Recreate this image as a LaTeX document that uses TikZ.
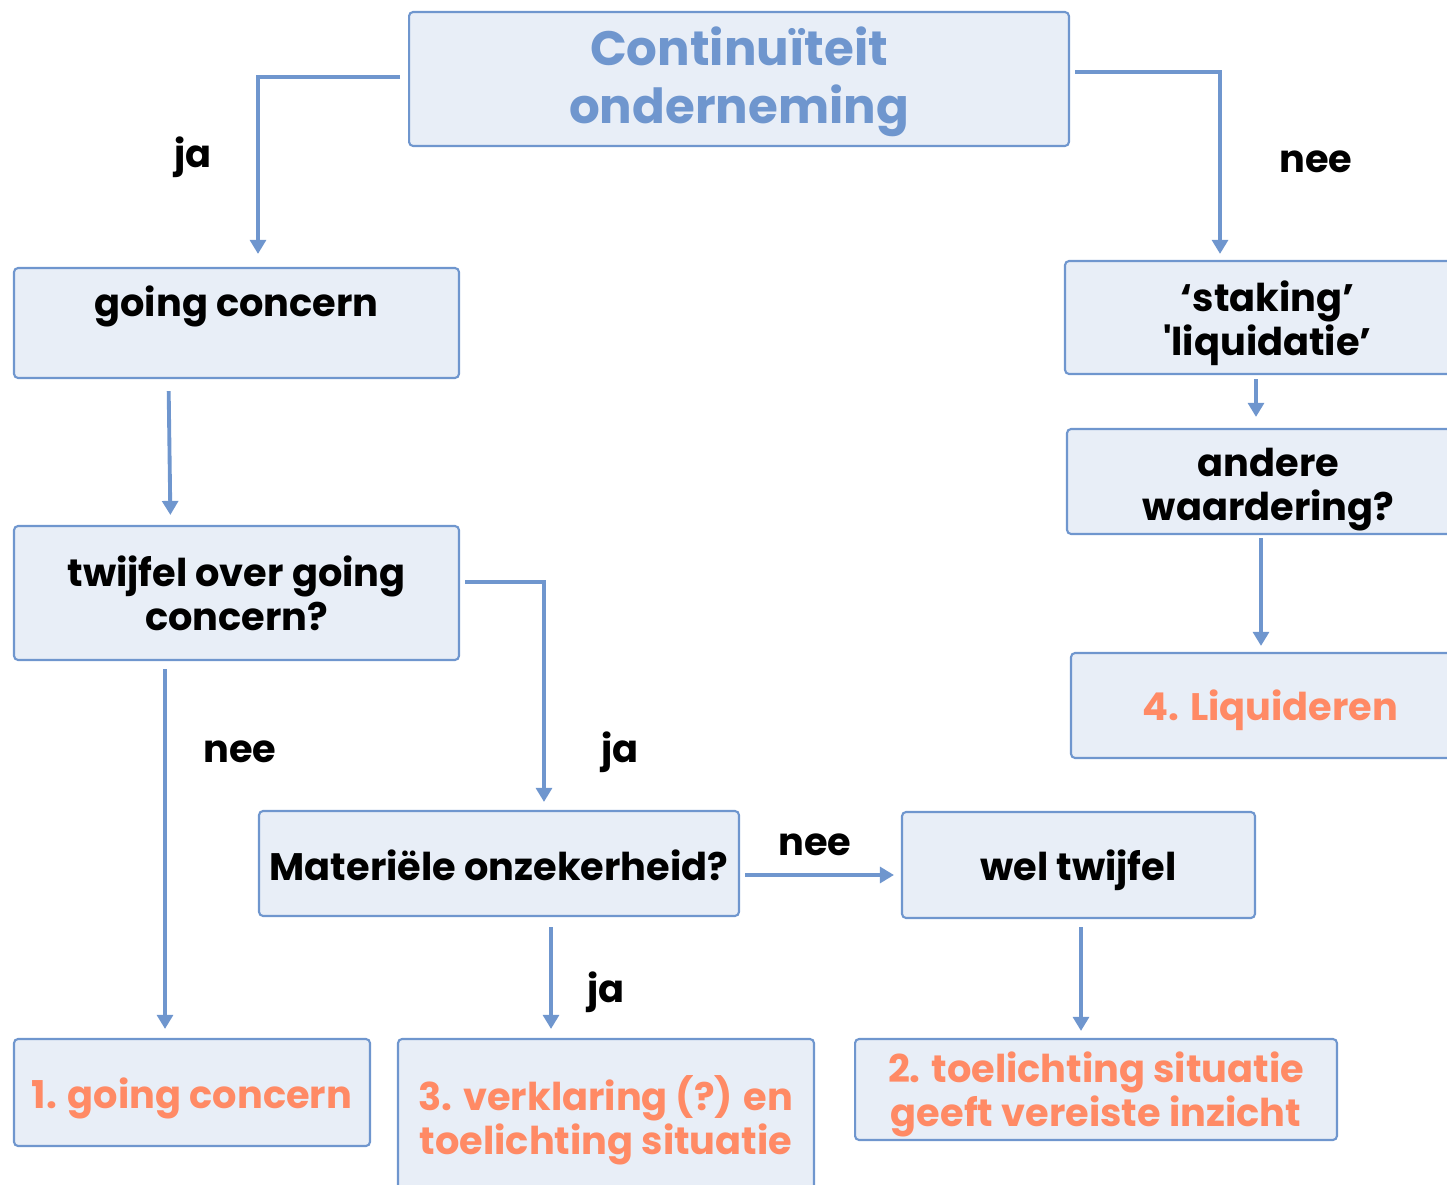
\documentclass[tikz,border=0pt]{standalone}
\usepackage{fontspec}
\setmainfont{Poppins}
\usetikzlibrary{arrows.meta}
\definecolor{lineblue}{HTML}{6F96CE}
\definecolor{boxfill}{HTML}{E8EEF7}
\definecolor{resorange}{HTML}{FF8A65}
% invisible strut that pushes the first line down
\newcommand{\tstrut}[1]{\rule{0pt}{#1}}
\begin{document}
\begin{tikzpicture}[x=0.02cm, y=-0.02cm,
	box/.style = {draw = lineblue, fill = boxfill, line width = 1.2pt, rounded corners = 0.08cm,
		inner sep = 0pt, align = center, font = \bfseries\fontsize{21.8}{25}\selectfont},
	result/.style = {box, text = resorange},
	arr/.style = {draw = lineblue, line width = 2.2pt, -{Triangle[width = 9pt, length = 8pt]}},
	lbl/.style = {font = \bfseries\fontsize{21.8}{25}\selectfont}]
\useasboundingbox (0,0) rectangle (1447,1185);

\node[box, minimum width = 13.2cm, minimum height = 2.68cm, text = lineblue,
	font = \bfseries\fontsize{27.5}{33}\selectfont] (top) at (739,79) {\tstrut{25pt}Continuïteit\\onderneming};

\node[box, minimum width = 8.9cm, minimum height = 2.2cm] (gc) at (236.5,323) {going concern\\~};
\node[box, minimum width = 8.9cm, minimum height = 2.68cm] (twijfel) at (236.5,593) {twijfel over going\\concern?};
\node[box, minimum width = 9.6cm, minimum height = 2.1cm] (mat) at (499,863.5) {\tstrut{19pt}Materiële onzekerheid?};
\node[box, minimum width = 7.06cm, minimum height = 2.12cm] (wel) at (1078.5,865) {\tstrut{23pt}wel twijfel};

\node[box, minimum width = 8.1cm, minimum height = 2.26cm] (staking) at (1267.5,317.5) {\tstrut{24pt}‘staking’\\\textquotesingle liquidatie’};
\node[box, minimum width = 8.06cm, minimum height = 2.1cm] (andere) at (1268.5,481.5) {\tstrut{25.5pt}andere\\waardering?};

\node[result, minimum width = 7.12cm, minimum height = 2.14cm] (res1) at (192,1092.5) {\tstrut{24pt}1. going concern};
\node[result, minimum width = 8.32cm, minimum height = 3.24cm] (res3) at (606,1120) {3. verklaring (?) en\\toelichting situatie};
\node[result, minimum width = 9.64cm, minimum height = 2.02cm] (res2) at (1096,1089.5) {\tstrut{23pt}2. toelichting situatie\\geeft vereiste inzicht};
\node[result, minimum width = 7.98cm, minimum height = 2.1cm] (res4) at (1270.5,705.5) {\tstrut{23pt}4. Liquideren};

% connectors
\draw[arr, shorten < = 0.16cm, shorten > = 0.26cm] ([yshift = 0.04cm]top.west) -| ([xshift = 0.43cm]gc.north);
\draw[arr, shorten < = 0.1cm, shorten > = 0.12cm] ([yshift = 0.14cm]top.east) -| ([xshift = -0.95cm]staking.north);
\draw[arr, shorten < = 0.24cm, shorten > = 0.2cm] ([xshift = -1.36cm]gc.south) -- ([xshift = -1.32cm]twijfel.north);
\draw[arr, shorten < = 0.1cm, shorten > = 0.16cm] ([yshift = 0.22cm]twijfel.east) -| ([xshift = 0.9cm]mat.north);
\draw[arr, shorten < = 0.16cm, shorten > = 0.18cm] ([xshift = -1.43cm]twijfel.south) -- ([xshift = -0.54cm]res1.north);
\draw[arr, shorten < = 0.1cm, shorten > = 0.14cm] ([yshift = -0.23cm]mat.east) -- ([yshift = -0.2cm]wel.west);
\draw[arr, shorten < = 0.2cm, shorten > = 0.18cm] ([xshift = 1.04cm]mat.south) -- ([xshift = -1.1cm]res3.north);
\draw[arr, shorten < = 0.16cm, shorten > = 0.14cm] ([xshift = 0.05cm]wel.south) -- ([xshift = -0.3cm]res2.north);
\draw[arr, shorten < = 0.08cm, shorten > = 0.22cm] ([xshift = -0.23cm]staking.south) -- ([xshift = -0.25cm]andere.north);
\draw[arr, shorten < = 0.06cm, shorten > = 0.12cm] ([xshift = -0.15cm]andere.south) -- ([xshift = -0.19cm]res4.north);

% labels
\node[lbl] (jaTop) at (193,157) {ja};
\node[lbl] (neeTop) at (1316,162) {nee};
\node[lbl] (neeGc) at (240,752) {nee};
\node[lbl] (jaGc) at (620,752) {ja};
\node[lbl] (neeMat) at (815,845) {nee};
\node[lbl] (jaMat) at (606,992) {ja};
\end{tikzpicture}
\end{document}
